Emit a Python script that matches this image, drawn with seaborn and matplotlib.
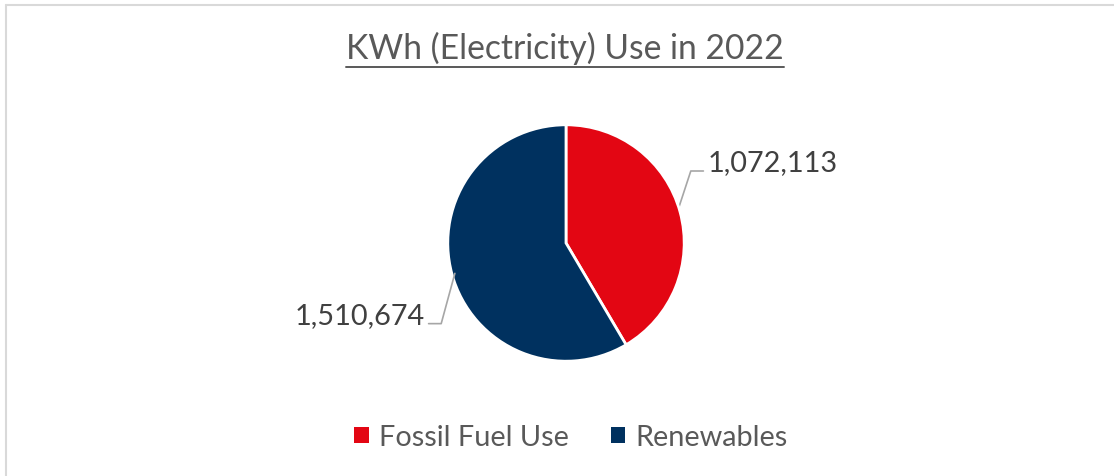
import numpy as np
import seaborn as sns
import matplotlib.pyplot as plt
from matplotlib.lines import Line2D
from matplotlib.patches import Patch

# chart data
categories = ['Fossil Fuel Use', 'Renewables']
kwh_values = [1072113, 1510674]
colors = ['#E30613', '#00315F']
title = 'KWh (Electricity) Use in 2022'

sns.set_theme(style='white')
plt.rcParams['font.family'] = ['Lato', 'DejaVu Sans']

W, H = 1114, 477
fig = plt.figure(figsize=(W / 100, H / 100), dpi=100)
fig.patch.set_facecolor('white')

# axes sized so that radius 1 = 117 px, centred on the pie
R = 117
aw, ah = 400, 300
cx, cy = 566, 244
ax = fig.add_axes([(cx - aw / 2) / W, (H - cy - ah / 2) / H, aw / W, ah / H])
ax.set_xlim(-aw / 2 / R, aw / 2 / R)
ax.set_ylim(-ah / 2 / R, ah / 2 / R)
ax.set_aspect('equal')
ax.axis('off')

wedges, _ = ax.pie(kwh_values, colors=colors, startangle=90, counterclock=False,
                   radius=0.985, wedgeprops=dict(edgecolor='white', linewidth=2))

# data labels with leader lines
for w, v in zip(wedges, kwh_values):
    mid = np.deg2rad((w.theta1 + w.theta2) / 2)
    ex, ey = 0.96 * np.cos(mid), 0.96 * np.sin(mid)
    side = np.sign(np.cos(mid))
    ky = 0.60 * (1 if side > 0 else -1.12)
    kx = 1.04 * side
    lx = 1.145 * side
    ax.plot([ex, kx, lx], [ey, ky, ky], color='#A6A6A6', lw=1.2,
            clip_on=False, zorder=0 if side > 0 else 3)
    ax.text(lx + 0.035 * side, ky + 0.075, f'{v:,}',
            ha='left' if side > 0 else 'right', va='center',
            fontsize=20.8, color='#404040')

# title with underline
t = fig.text(565 / W, 1 - 48 / H, title, ha='center', va='center',
             fontsize=24.2, color='#595959')
fig.canvas.draw()
bb = t.get_window_extent(fig.canvas.get_renderer())
uy = 1 - 68 / H
fig.add_artist(Line2D([bb.x0 / W, bb.x1 / W], [uy, uy], color='#595959', lw=1.4))

# legend
handles = [Patch(facecolor=c, edgecolor='none', label=l) for c, l in zip(colors, categories)]
fig.legend(handles=handles, loc='center', bbox_to_anchor=(571 / W, 1 - 438 / H), ncol=2,
           frameon=False, fontsize=20.8, handlelength=0.5, handleheight=0.5,
           handletextpad=0.35, columnspacing=1.45, labelcolor='#595959')

# chart area border (top and left visible)
fig.add_artist(Line2D([6 / W, 6 / W], [0, 1 - 6 / H], color='#D9D9D9', lw=1.5))
fig.add_artist(Line2D([6 / W, 1], [1 - 6 / H, 1 - 6 / H], color='#D9D9D9', lw=1.5))

fig.savefig('out.png', dpi=100)
